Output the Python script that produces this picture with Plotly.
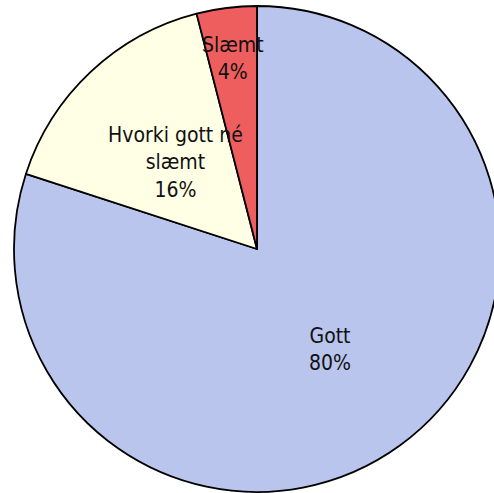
import math
import plotly.graph_objects as go

categories = ["Gott", "Hvorki gott né slæmt", "Slæmt"]
values = [80, 16, 4]
label_text = ["Gott", "Hvorki gott né<br>slæmt", "Slæmt"]

colors = ["rgb(185,197,237)", "rgb(255,255,230)", "rgb(238,94,94)"]
label_radius_frac = [0.51, 0.49, 0.79]

W, H = 514, 493
cx_px, cy_px, R = 257, 249, 243  # centre (from top-left) and radius in px

dom_x = [(cx_px - R) / W, (cx_px + R) / W]
dom_y = [(H - cy_px - R) / H, (H - cy_px + R) / H]

fig = go.Figure()
fig.add_trace(go.Pie(
    labels=categories,
    values=values,
    sort=False,
    direction="clockwise",
    rotation=0,
    marker=dict(colors=colors, line=dict(color="black", width=1.8)),
    textinfo="none",
    hoverinfo="label+percent",
    showlegend=False,
    domain=dict(x=dom_x, y=dom_y),
))

total = sum(values)
start = 0.0
font = dict(family="DejaVu Sans Condensed, Liberation Sans Narrow, sans-serif", size=21, color="#111111")
for lab, v, fr in zip(label_text, values, label_radius_frac):
    mid = start + v / total * 360 / 2
    start += v / total * 360
    a = math.radians(mid)
    px = cx_px + math.sin(a) * R * fr
    py = cy_px - math.cos(a) * R * fr
    pct = round(v / total * 100)
    fig.add_annotation(
        x=px / W, y=(H - py) / H, xref="paper", yref="paper",
        text=f"{lab}<br>{pct}%", showarrow=False, font=font,
        xanchor="center", yanchor="middle",
    )

fig.update_layout(
    width=W, height=H,
    margin=dict(l=0, r=0, t=0, b=0),
    paper_bgcolor="white", plot_bgcolor="white",
)

fig.write_html(
    "out.html",
    config={"displayModeBar": False},
    post_script="document.body.style.margin='0';document.body.style.overflow='hidden';document.documentElement.style.overflow='hidden';",
)
